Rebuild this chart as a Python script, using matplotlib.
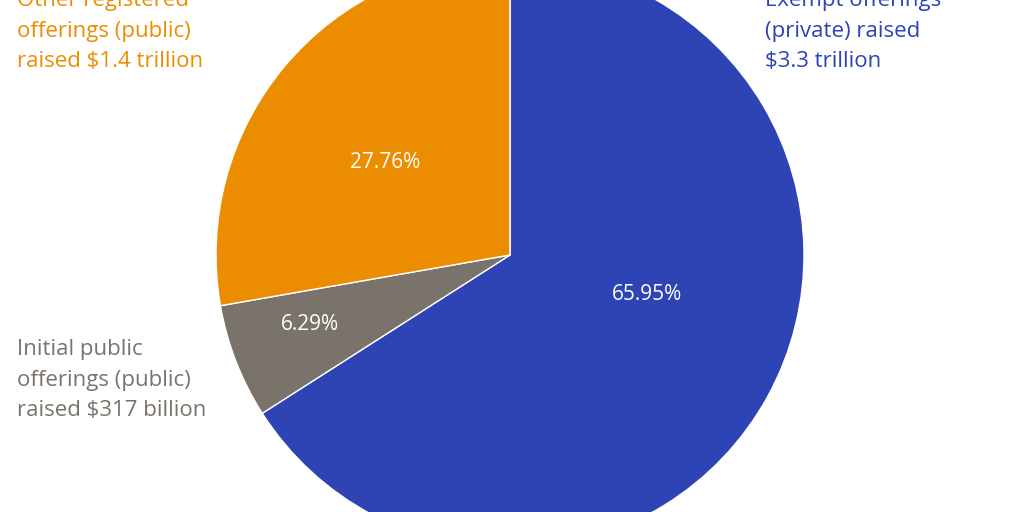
import matplotlib.pyplot as plt

labels = ['Exempt offerings\n(private) raised\n$3.3 trillion',
          'Initial public\nofferings (public)\nraised $317 billion',
          'Other registered\nofferings (public)\nraised $1.4 trillion']
shares = [65.95, 6.29, 27.76]
colors = ['#2E43B4', '#7A736C', '#EC8C00']

plt.rcParams['font.family'] = ['Open Sans', 'DejaVu Sans']

fig = plt.figure(figsize=(10.24, 5.12), dpi=100)
ax = fig.add_axes([0, 0, 1, 1])
r = 294
ax.pie(shares, colors=colors, startangle=90, counterclock=False, radius=1,
       wedgeprops=dict(edgecolor='white', linewidth=1))
ax.set_aspect('auto')
ax.set_xlim(-510 / r, 514 / r)
ax.set_ylim(-257 / r, 255 / r)
ax.axis('off')

# percentage labels (pixel positions in figure)
pct_pos = [(647, 295), (310, 325), (385, 163)]
for (px, py), s in zip(pct_pos, shares):
    fig.text(px / 1024, 1 - py / 512, f'{s:.2f}%', color='white',
             fontsize=15, ha='center', va='center')

# category labels (centre of first line)
lab_pos = [(765, 3), (17, 352), (17, 3)]
for (px, py), t, c in zip(lab_pos, labels, colors):
    fig.text(px / 1024, 1 - (py - 13) / 512, t, color=c, fontsize=16,
             ha='left', va='top', linespacing=1.6)

fig.savefig('out.png')
